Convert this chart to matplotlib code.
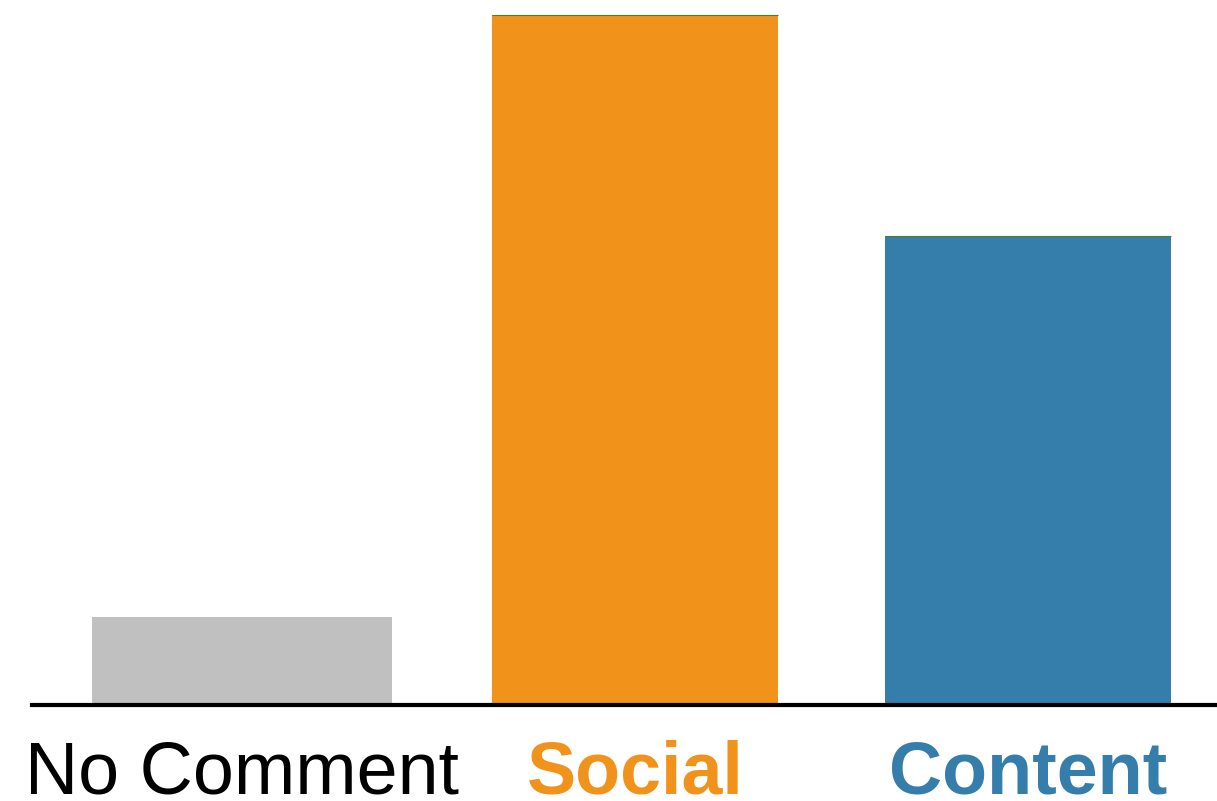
import matplotlib.pyplot as plt
import numpy as np

plt.rcParams['font.family'] = ['Liberation Sans', 'DejaVu Sans']

categories = ['No Comment', 'Social', 'Content']
values = [12.8, 100, 68]
bar_colors = ['#c0c0c0', '#f1921b', '#357dab']
label_colors = ['#000000', '#f1921b', '#357dab']
label_weights = ['normal', 'bold', 'bold']

fig = plt.figure(figsize=(12.17, 8.01), dpi=100)
ax = fig.add_axes([32 / 1217, 1 - 705 / 801, 1 - 32 / 1217, 705 / 801])

x = np.arange(len(categories))
widths = [0.763, 0.728, 0.728]
bars = ax.bar(x, values, width=widths, color=bar_colors, linewidth=0)
# thin green line along the top of the coloured bars
for b in bars[1:]:
    ax.hlines(b.get_height(), b.get_x(), b.get_x() + b.get_width(),
              color='#4c7f1f', linewidth=0.8)

ax.set_xlim(-0.534, 2.481)
ax.set_ylim(0, 102.2)

for side in ['top', 'right', 'left']:
    ax.spines[side].set_visible(False)
ax.spines['bottom'].set_linewidth(3)
ax.spines['bottom'].set_zorder(5)
ax.set_yticks([])
ax.set_xticks(x)
ax.set_xticklabels(categories, fontsize=53)
ax.tick_params(axis='x', length=0, pad=25)
for lbl, c, w in zip(ax.get_xticklabels(), label_colors, label_weights):
    lbl.set_color(c)
    lbl.set_fontweight(w)

fig.savefig('out.png', dpi=100)
